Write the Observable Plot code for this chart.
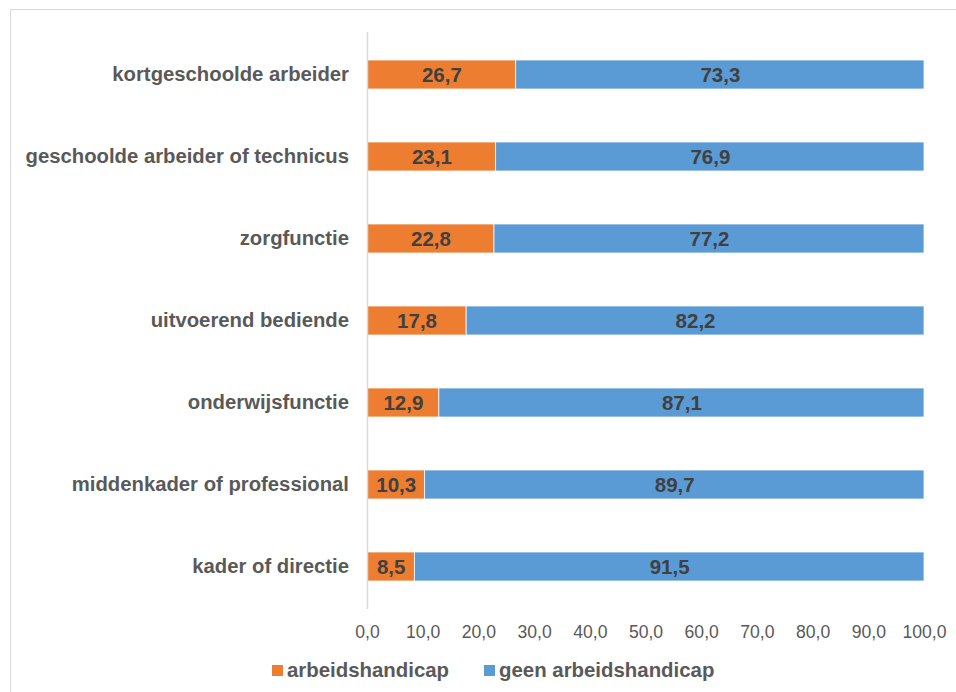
<!DOCTYPE html>
<html>
<head>
<meta charset="utf-8">
<script src="https://cdn.jsdelivr.net/npm/d3@7"></script>
<script src="https://cdn.jsdelivr.net/npm/@observablehq/plot@0.6"></script>
<style>
  html, body { margin: 0; padding: 0; background: #fff; }
  #wrap { position: relative; width: 956px; height: 692px; overflow: hidden; font-family: "Liberation Sans", Arial, sans-serif; }
  #frame { position: absolute; left: 9.5px; top: 8.5px; width: 1200px; height: 1200px; border: 1.5px solid #d9d9d9; box-sizing: border-box; }
  #chart { position: absolute; left: 0; top: 0; }
  #legend { position: absolute; left: 272px; top: 658px; height: 24px; display: flex; align-items: center; font-weight: bold; font-size: 20.4px; line-height: 24px; color: #595959; white-space: nowrap; }
  .sw { display: inline-block; width: 11px; height: 11px; margin-right: 4px; }
  .item { display: flex; align-items: center; margin-right: 35px; }
</style>
</head>
<body>
<div id="wrap">
  <div id="frame"></div>
  <div id="chart"></div>
  <div id="legend"></div>
</div>
<script>
const categories = [
  "kortgeschoolde arbeider",
  "geschoolde arbeider of technicus",
  "zorgfunctie",
  "uitvoerend bediende",
  "onderwijsfunctie",
  "middenkader of professional",
  "kader of directie"
];
const seriesNames = ["arbeidshandicap", "geen arbeidshandicap"];
const seriesColors = ["#ED7D31", "#5B9BD5"];
const arbeidshandicap = [26.7, 23.1, 22.8, 17.8, 12.9, 10.3, 8.5];
const geenArbeidshandicap = [73.3, 76.9, 77.2, 82.2, 87.1, 89.7, 91.5];
const xTicks = [0, 10, 20, 30, 40, 50, 60, 70, 80, 90, 100];

const fmt = v => v.toFixed(1).replace(".", ",");

const data = [];
categories.forEach((c, i) => {
  data.push({cat: c, series: seriesNames[0], value: arbeidshandicap[i]});
  data.push({cat: c, series: seriesNames[1], value: geenArbeidshandicap[i]});
});

const chart = Plot.plot({
  width: 956,
  height: 692,
  marginLeft: 367,
  marginRight: 32,
  marginTop: 32,
  marginBottom: 83,
  style: {fontFamily: "'Liberation Sans', Arial, sans-serif", background: "transparent", overflow: "visible"},
  x: {domain: [0, 100], ticks: xTicks, tickFormat: fmt, tickSize: 0, tickPadding: 15.5, label: null},
  y: {domain: categories, paddingInner: 0.644, paddingOuter: 0.322, tickSize: 0, tickPadding: 18.5, label: null},
  color: {domain: seriesNames, range: seriesColors},
  marks: [
    Plot.axisX({ticks: xTicks, tickFormat: fmt, tickSize: 0, tickPadding: 15.5, fontSize: 17.6, fill: "#595959", label: null}),
    Plot.axisY({tickSize: 0, tickPadding: 18.5, fontSize: 20.3, fontWeight: "bold", fill: "#595959", label: null, dy: -1}),
    Plot.barX(data, Plot.stackX({x: "value", y: "cat", z: "series", fill: "series", stroke: "white", strokeWidth: 0.75})),
    Plot.ruleX([0], {stroke: "#d9d9d9", strokeWidth: 1.5}),
    Plot.textX(data, Plot.stackX({x: "value", y: "cat", z: "series", text: d => fmt(d.value), fill: "#404040", fontSize: 20.5, fontWeight: "bold"}))
  ]
});
document.getElementById("chart").appendChild(chart);

const legend = document.getElementById("legend");
seriesNames.forEach((s, i) => {
  const item = document.createElement("span");
  item.className = "item";
  const sw = document.createElement("span");
  sw.className = "sw";
  sw.style.background = seriesColors[i];
  item.appendChild(sw);
  item.appendChild(document.createTextNode(s));
  legend.appendChild(item);
});
</script>
</body>
</html>
